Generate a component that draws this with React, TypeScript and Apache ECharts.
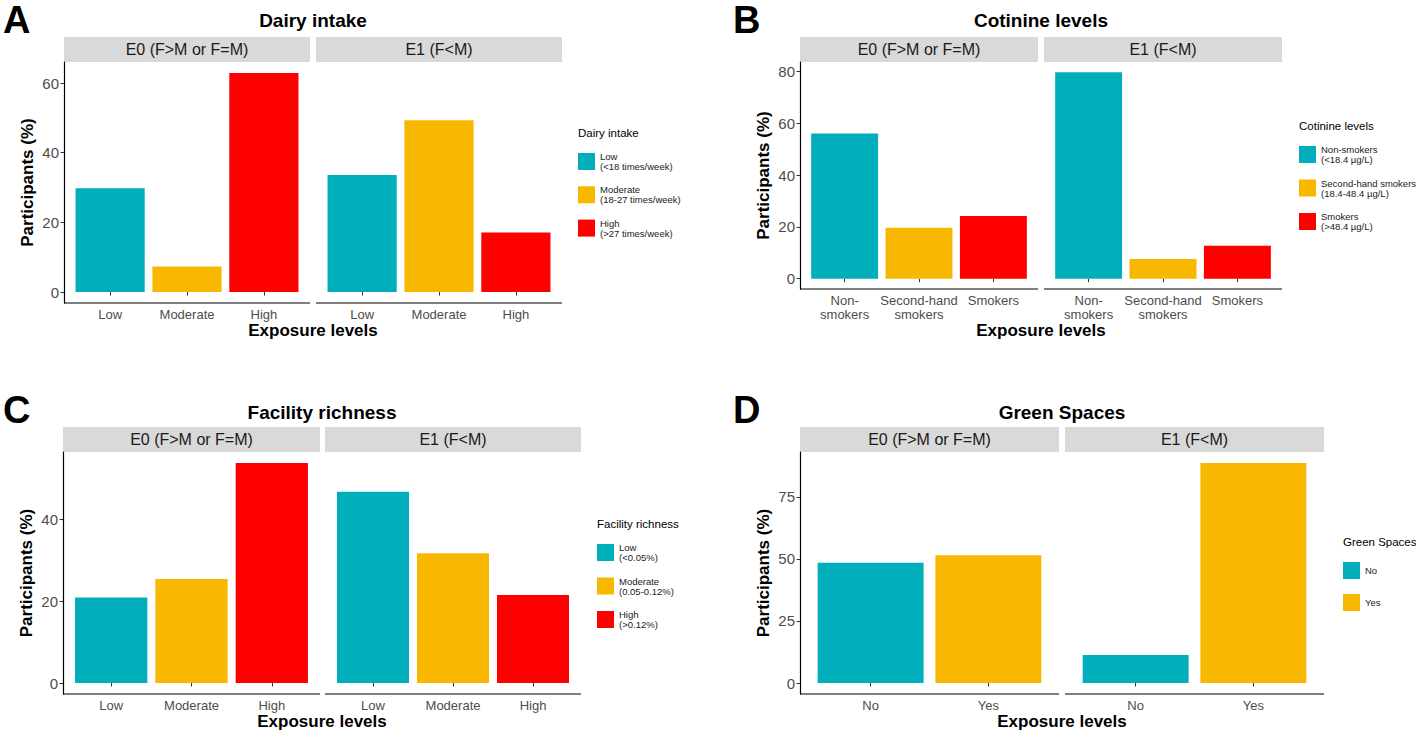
import React, { useEffect, useRef } from "react";
import * as echarts from "echarts";

// ---------- data ----------
const facetLabels = ["E0 (F>M or F=M)", "E1 (F<M)"];
const xAxisTitle = "Exposure levels";
const yAxisTitle = "Participants (%)";

const dairyCategories = ["Low", "Moderate", "High"];
const dairyTickLabels = ["Low", "Moderate", "High"];
const dairyLegendLabels = ["Low\n(<18 times/week)", "Moderate\n(18-27 times/week)", "High\n(>27 times/week)"];
const dairyE0 = [29.8, 7.3, 62.9];
const dairyE1 = [33.6, 49.3, 17.1];
const dairyTicks = [0, 20, 40, 60];

const cotinineCategories = ["Non-smokers", "Second-hand smokers", "Smokers"];
const cotinineTickLabels = ["Non-\nsmokers", "Second-hand\nsmokers", "Smokers"];
const cotinineLegendLabels = ["Non-smokers\n(<18.4 µg/L)", "Second-hand smokers\n(18.4-48.4 µg/L)", "Smokers\n(>48.4 µg/L)"];
const cotinineE0 = [56.1, 19.7, 24.2];
const cotinineE1 = [79.7, 7.6, 12.7];
const cotinineTicks = [0, 20, 40, 60, 80];

const facilityCategories = ["Low", "Moderate", "High"];
const facilityTickLabels = ["Low", "Moderate", "High"];
const facilityLegendLabels = ["Low\n(<0.05%)", "Moderate\n(0.05-0.12%)", "High\n(>0.12%)"];
const facilityE0 = [20.9, 25.4, 53.7];
const facilityE1 = [46.7, 31.7, 21.5];
const facilityTicks = [0, 20, 40];

const greenCategories = ["No", "Yes"];
const greenTickLabels = ["No", "Yes"];
const greenLegendLabels = ["No", "Yes"];
const greenE0 = [48.5, 51.5];
const greenE1 = [11.3, 88.7];
const greenTicks = [0, 25, 50, 75];

const TEAL = "#00AFBB";
const GOLD = "#F8B800";
const RED = "#FF0000";

const panels = [
  { letter: "A", title: "Dairy intake", categories: dairyCategories, tickLabels: dairyTickLabels, legendLabels: dairyLegendLabels, e0: dairyE0, e1: dairyE1, ticks: dairyTicks, colors: [TEAL, GOLD, RED] },
  { letter: "B", title: "Cotinine levels", categories: cotinineCategories, tickLabels: cotinineTickLabels, legendLabels: cotinineLegendLabels, e0: cotinineE0, e1: cotinineE1, ticks: cotinineTicks, colors: [TEAL, GOLD, RED] },
  { letter: "C", title: "Facility richness", categories: facilityCategories, tickLabels: facilityTickLabels, legendLabels: facilityLegendLabels, e0: facilityE0, e1: facilityE1, ticks: facilityTicks, colors: [TEAL, GOLD, RED] },
  { letter: "D", title: "Green Spaces", categories: greenCategories, tickLabels: greenTickLabels, legendLabels: greenLegendLabels, e0: greenE0, e1: greenE1, ticks: greenTicks, colors: [TEAL, GOLD] },
];

// ---------- layout ----------
const layouts = [
  { letterX: 3, letterY: 19.5, titleY: 20.5, facets: [[64, 310], [316, 562]], stripTop: 37, plotTop: 62, plotBottom: 303, xTitleY: 330.5, legendX: 578, legendTitleY: 133, legendTop: 151.5, legendGap: 13.3, yNameGap: 28 },
  { letterX: 733, letterY: 19.5, titleY: 20.5, facets: [[800, 1038], [1044, 1282]], stripTop: 37, plotTop: 62, plotBottom: 289, xTitleY: 330.5, legendX: 1299, legendTitleY: 126, legendTop: 144.5, legendGap: 13.5, yNameGap: 28 },
  { letterX: 3, letterY: 409.5, titleY: 412, facets: [[63, 320], [325, 581]], stripTop: 427, plotTop: 452, plotBottom: 694, xTitleY: 721, legendX: 597, legendTitleY: 524, legendTop: 542.5, legendGap: 13.5, yNameGap: 28 },
  { letterX: 733, letterY: 409.5, titleY: 412, facets: [[800, 1059], [1065, 1324]], stripTop: 427, plotTop: 452, plotBottom: 694, xTitleY: 721, legendX: 1343, legendTitleY: 542, legendTop: 562, legendGap: 15, yNameGap: 28 },
];

const FF = "'Liberation Sans', Arial, Helvetica, sans-serif";

function txt(text: string, x: number, y: number, size: number, weight: string, align: string, fill: string) {
  return {
    type: "text",
    silent: true,
    style: {
      text, x, y,
      font: `${weight} ${size}px ${FF}`,
      fill,
      align, textAlign: align,
      verticalAlign: "middle", textVerticalAlign: "middle",
    },
  };
}

function buildOption() {
  const grid: any[] = [];
  const xAxis: any[] = [];
  const yAxis: any[] = [];
  const series: any[] = [];
  const legend: any[] = [];
  const graphic: any[] = [];

  panels.forEach((p, pi) => {
    const L = layouts[pi];
    const n = p.categories.length;
    const maxV = Math.max(...p.e0, ...p.e1);
    const yMin = -0.05 * maxV;
    const yMax = 1.05 * maxV;
    const left = L.facets[0][0];
    const right = L.facets[1][1];
    const cx = (left + right) / 2;

    graphic.push(txt(p.letter, L.letterX, L.letterY, 38, "bold", "left", "#000"));
    graphic.push(txt(p.title, cx, L.titleY, 19, "bold", "center", "#000"));
    graphic.push(txt(xAxisTitle, cx, L.xTitleY, 17, "bold", "center", "#000"));

    [p.e0, p.e1].forEach((vals, fi) => {
      const [l, r] = L.facets[fi];
      const u = (r - l) / (n + 0.2);
      const gi = grid.length;
      grid.push({ left: l + 0.1 * u, width: n * u, top: L.plotTop, height: L.plotBottom - L.plotTop, containLabel: false, outerBoundsMode: "none" });
      xAxis.push({
        type: "category", gridIndex: gi, data: p.tickLabels,
        axisLine: { show: false },
        axisTick: { show: true, alignWithLabel: true, length: 3.5, lineStyle: { color: "#333", width: 1 } },
        axisLabel: { interval: 0, margin: 4, fontSize: 13, lineHeight: 14, color: "#4D4D4D", fontFamily: FF },
        splitLine: { show: false },
      });
      yAxis.push({
        type: "value", gridIndex: gi, min: yMin, max: yMax, show: fi === 0, offset: 0.1 * u,
        axisLine: { show: true, lineStyle: { color: "#000", width: 1.2 } },
        axisTick: { show: true, length: 3.5, customValues: p.ticks, lineStyle: { color: "#333", width: 1 } },
        axisLabel: { customValues: p.ticks, margin: 5, fontSize: 15, color: "#4D4D4D", fontFamily: FF },
        splitLine: { show: false },
        name: fi === 0 ? yAxisTitle : "",
        nameLocation: "middle", nameGap: L.yNameGap,
        nameTextStyle: { fontSize: 17, fontWeight: "bold", color: "#000", fontFamily: FF },
      });
      p.categories.forEach((c, ci) => {
        series.push({
          type: "bar", name: c, xAxisIndex: gi, yAxisIndex: gi,
          data: vals.map((v, j) => (j === ci ? v : "-")),
          barWidth: "90%", barGap: "-100%",
          itemStyle: { color: p.colors[ci] },
          emphasis: { disabled: true },
        });
      });
      // strip
      graphic.push({ type: "rect", silent: true, shape: { x: l, y: L.stripTop, width: r - l, height: L.plotTop - L.stripTop }, style: { fill: "#D9D9D9" } });
      graphic.push(txt(facetLabels[fi], (l + r) / 2, (L.stripTop + L.plotTop) / 2, 16, "normal", "center", "#1A1A1A"));
      // bottom axis line spanning the panel
      graphic.push({ type: "line", silent: true, shape: { x1: l, y1: L.plotBottom, x2: r, y2: L.plotBottom }, style: { stroke: "#000", lineWidth: 1.2 } });
    });

    graphic.push(txt(p.title, L.legendX, L.legendTitleY, 11.5, "normal", "left", "#000"));
    legend.push({
      orient: "vertical", left: L.legendX, top: L.legendTop, padding: 0,
      itemWidth: 17, itemHeight: 17, itemGap: L.legendGap, icon: "rect",
      selectedMode: false,
      data: p.categories,
      formatter: (name: string) => p.legendLabels[p.categories.indexOf(name)],
      textStyle: { fontSize: 9.5, lineHeight: 10, color: "#1A1A1A", fontFamily: FF },
    });
  });

  return {
    animation: false,
    backgroundColor: "#FFFFFF",
    textStyle: { fontFamily: FF },
    grid, xAxis, yAxis, series, legend, graphic,
  };
}

export default function App() {
  const ref = useRef<HTMLDivElement>(null);
  useEffect(() => {
    if (!ref.current) return;
    const chart = echarts.init(ref.current, undefined, { renderer: "svg" });
    chart.setOption(buildOption() as any);
    return () => chart.dispose();
  }, []);
  return <div ref={ref} style={{ position: "fixed", left: 0, top: 0, width: 1416, height: 732 }} />;
}
